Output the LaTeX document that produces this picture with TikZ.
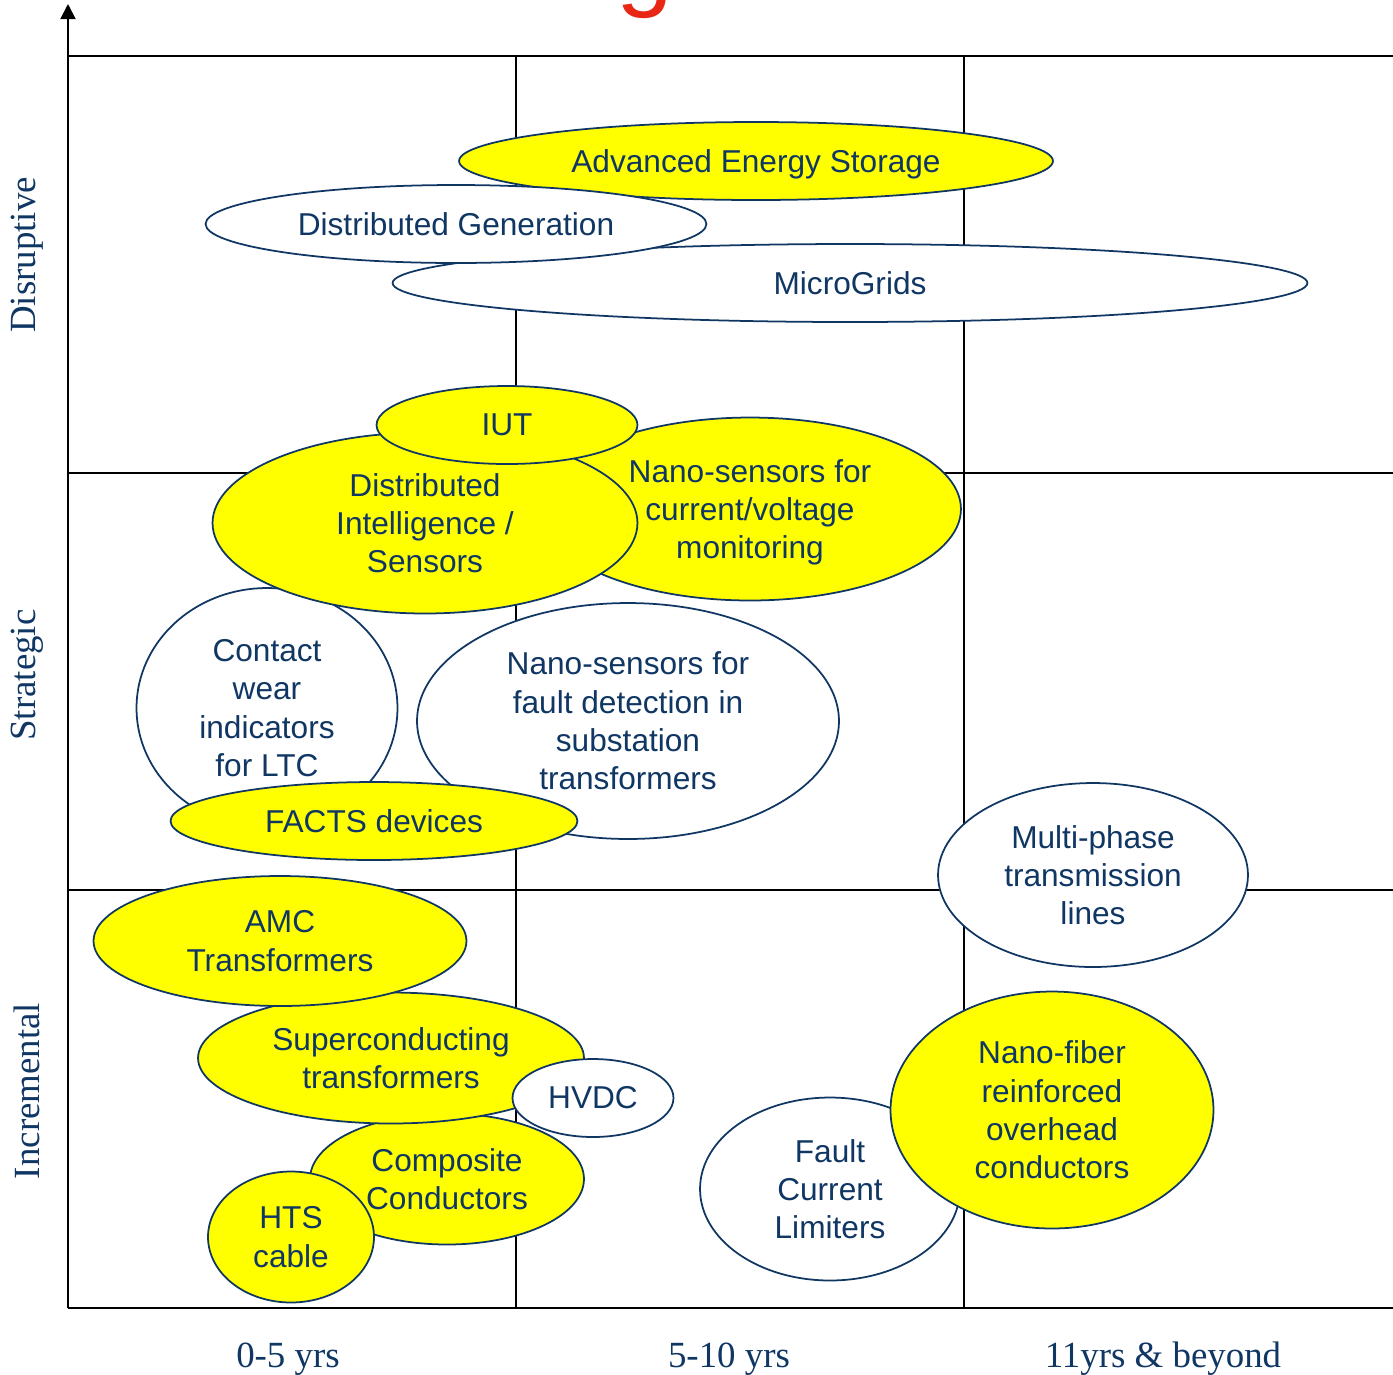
\documentclass[tikz,border=0pt]{standalone}
\usepackage{fontspec}
\setmainfont{Liberation Sans}
\newfontfamily\axisfont{Liberation Serif}
\usetikzlibrary{shapes.geometric,arrows.meta}
\definecolor{ink}{RGB}{16,55,100}
\definecolor{hotyellow}{RGB}{255,255,0}
\definecolor{titlered}{RGB}{232,40,20}
\tikzset{
  blob/.style={ellipse, draw=ink, line width=1pt, text=ink, align=center,
    inner sep=0pt, font=\fontsize{18}{21.8}\selectfont},
  hot/.style={blob, fill=hotyellow},
  cold/.style={blob, fill=white},
  axislabel/.style={text=ink, font=\axisfont\fontsize{21}{24}\selectfont},
  gridline/.style={line width=1.1pt}
}

\begin{document}
\begin{tikzpicture}[x=0.02cm, y=-0.02cm]
    \useasboundingbox (0,0) rectangle (1393,1374);
    \begin{scope}
        \clip (0,0) rectangle (1393,1374);
        \node[text=titlered, font=\fontsize{58}{60}\selectfont, anchor=base] (title) at (645,-3) {g};
    \end{scope}
    \draw[gridline] (68,56) -- (1393,56);
    \draw[gridline] (68,473) -- (1393,473);
    \draw[gridline] (68,890) -- (1393,890);
    \draw[line width=1.6pt] (68,1308) -- (1393,1308);
    \draw[gridline] (516,56) -- (516,1308);
    \draw[gridline] (964,56) -- (964,1308);
    \draw[gridline, -{Triangle[length=0.3cm, width=0.3cm]}] (68,1308) -- (68,4);

    \node[hot, minimum width=11.88cm, minimum height=1.56cm, text depth=0pt] (storage) at (756,161) {Advanced Energy Storage};
    \node[cold, minimum width=18.3cm, minimum height=1.56cm] (micro) at (850,283) {MicroGrids};
    \node[cold, minimum width=10.02cm, minimum height=1.56cm] (distgen) at (456,224) {Distributed Generation};
    \node[hot, minimum width=8.44cm, minimum height=3.66cm, text depth=0pt] (nanocv) at (750,509) {Nano-sensors for\\current/voltage\\monitoring};
    \node[cold, minimum width=5.22cm, minimum height=4.8cm] (contact) at (267,708) {Contact\\wear\\indicators\\for LTC};
    \node[cold, minimum width=8.44cm, minimum height=4.72cm] (nanofault) at (628,721) {Nano-sensors for\\fault detection in\\substation\\transformers};
    \node[hot, minimum width=8.5cm, minimum height=3.62cm] (distint) at (425,523) {Distributed\\Intelligence /\\Sensors};
    \node[hot, minimum width=5.22cm, minimum height=1.56cm] (iut) at (507,425) {IUT};
    \node[hot, minimum width=8.14cm, minimum height=1.56cm] (facts) at (374,821) {FACTS devices};
    \node[cold, minimum width=6.2cm, minimum height=3.68cm] (multi) at (1093,875) {Multi-phase\\transmission\\lines};
    \node[hot, minimum width=5.48cm, minimum height=2.62cm] (composite) at (447,1179) {Composite\\Conductors};
    \node[hot, minimum width=7.72cm, minimum height=2.62cm] (supercon) at (391,1058) {Superconducting\\transformers};
    \node[cold, minimum width=3.22cm, minimum height=1.56cm] (hvdc) at (593,1098) {HVDC};
    \node[hot, minimum width=3.32cm, minimum height=2.62cm] (hts) at (291,1237) {HTS\\cable};
    \node[hot, minimum width=7.46cm, minimum height=2.6cm] (amc) at (280,941) {AMC\\Transformers};
    \node[cold, minimum width=5.2cm, minimum height=3.66cm] (limiter) at (830,1189) {Fault\\Current\\Limiters};
    \node[hot, minimum width=6.46cm, minimum height=4.74cm] (nanofiber) at (1052,1110) {Nano-fiber\\reinforced\\overhead\\conductors};

    \node[axislabel, rotate=90] (disr) at (27,255) {Disruptive};
    \node[axislabel, rotate=90] (strat) at (27,675) {Strategic};
    \node[axislabel, rotate=90] (incr) at (27,1091) {Incremental};
    \node[axislabel] (short) at (288,1359) {0-5 yrs};
    \node[axislabel] (mid) at (729,1359) {5-10 yrs};
    \node[axislabel] (long) at (1163,1359) {11yrs \& beyond};
\end{tikzpicture}
\end{document}
